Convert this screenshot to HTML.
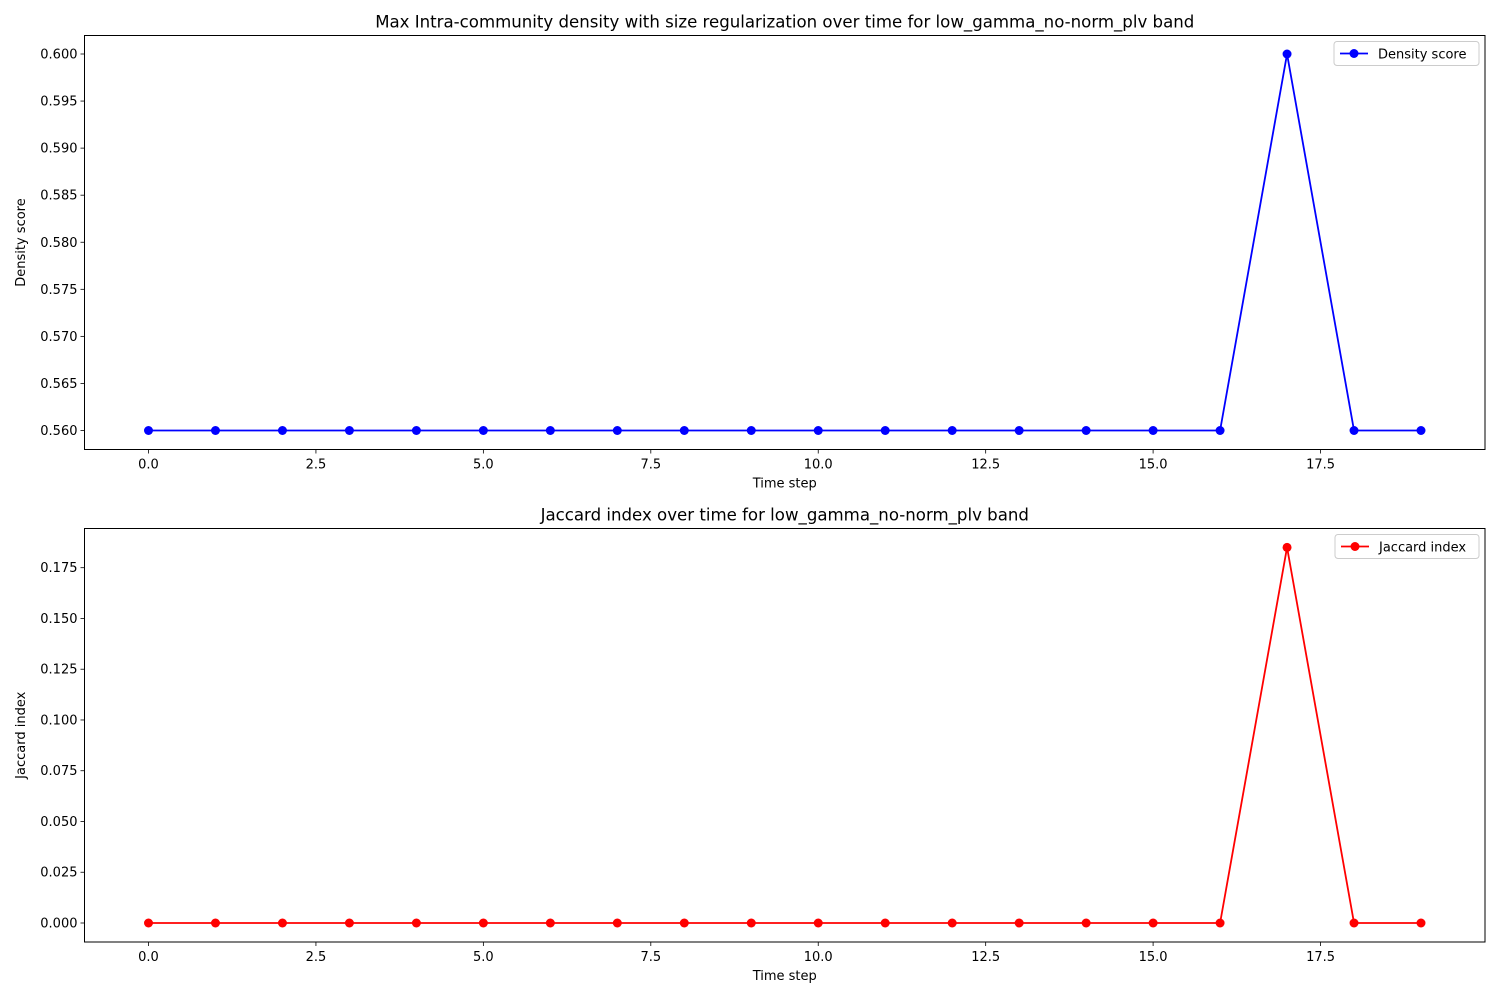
<!DOCTYPE html>
<html><head><meta charset="utf-8"><style>
body{margin:0;background:#fff;font-family:"Liberation Sans","DejaVu Sans",sans-serif}
svg text{font-family:"DejaVu Sans","Liberation Sans",sans-serif;font-size:13px;fill:#000}
svg text.title{font-size:16.6px}
</style></head><body>
<svg id="c" width="1500" height="1000" xmlns="http://www.w3.org/2000/svg"></svg>
<script>
const timeSteps=[0,1,2,3,4,5,6,7,8,9,10,11,12,13,14,15,16,17,18,19];
const densityValues=[0.56,0.56,0.56,0.56,0.56,0.56,0.56,0.56,0.56,0.56,0.56,0.56,0.56,0.56,0.56,0.56,0.56,0.60,0.56,0.56];
const jaccardValues=[0,0,0,0,0,0,0,0,0,0,0,0,0,0,0,0,0,0.185,0,0];
const xTicks=[0,2.5,5,7.5,10,12.5,15,17.5];
const xTickLabels=["0.0","2.5","5.0","7.5","10.0","12.5","15.0","17.5"];
const densityTicks=[0.56,0.565,0.57,0.575,0.58,0.585,0.59,0.595,0.60];
const densityTickLabels=["0.560","0.565","0.570","0.575","0.580","0.585","0.590","0.595","0.600"];
const jaccardTicks=[0,0.025,0.05,0.075,0.1,0.125,0.15,0.175];
const jaccardTickLabels=["0.000","0.025","0.050","0.075","0.100","0.125","0.150","0.175"];

const svg=document.getElementById('c');
const NS='http://www.w3.org/2000/svg';
function mk(tag,attrs,parent){const e=document.createElementNS(NS,tag);for(const k in attrs)e.setAttribute(k,attrs[k]);(parent||svg).appendChild(e);return e;}
function xScale(v){return 148.5+(1421-148.5)*v/19;}

function panel(o){
  const g=mk('g',{});
  
  
  const L=84.5,R=1485,T=o.top,B=o.bottom;
  const y=v=>o.y0px+(o.y1px-o.y0px)*(v-o.y0)/(o.y1-o.y0);
  const t=mk('text',{x:(L+R)/2,y:T-8,'text-anchor':'middle','class':'title'},g);t.textContent=o.title;
  
  xTicks.forEach((v,i)=>{const X=xScale(v);mk('line',{x1:X,x2:X,y1:B,y2:B+4,stroke:'#000','stroke-width':0.8},g);
    const tx=mk('text',{x:X,y:B+19,'text-anchor':'middle'},g);tx.textContent=xTickLabels[i];
    });
  o.ticks.forEach((v,i)=>{const Y=y(v);mk('line',{x1:L-4,x2:L,y1:Y,y2:Y,stroke:'#000','stroke-width':0.8},g);
    const ty=mk('text',{x:L-7,y:Y+4.5,'text-anchor':'end'},g);ty.textContent=o.tickLabels[i];
    });
  const xl=mk('text',{x:(L+R)/2,y:B+38,'text-anchor':'middle'},g);xl.textContent='Time step';
  
  const cy=(T+B)/2;
  const yl=mk('text',{x:25,y:cy,'text-anchor':'middle',transform:`rotate(-90 25 ${cy})`},g);yl.textContent=o.ylabel;
  
  const pts=timeSteps.map((t,i)=>xScale(t)+','+y(o.values[i])).join(' ');
  const pl=mk('polyline',{points:pts,fill:'none',stroke:o.color,'stroke-width':1.8},g);
  
  timeSteps.forEach((t,i)=>{const c=mk('circle',{cx:xScale(t),cy:y(o.values[i]),r:4.5,fill:o.color},g);
    });
  mk('rect',{x:L,y:T,width:R-L,height:B-T,fill:'none',stroke:'#000','stroke-width':1},g);
  const lg=mk('g',{},g);
  
  const lx=o.legX,ly=T+6;
  mk('rect',{x:lx,y:ly,width:R-6-lx,height:24,rx:3,fill:'#fff',stroke:'#ccc'},lg);
  mk('line',{x1:lx+6,x2:lx+34,y1:ly+12,y2:ly+12,stroke:o.color,'stroke-width':1.8},lg);
  mk('circle',{cx:lx+20,cy:ly+12,r:4.5,fill:o.color},lg);
  const lt=mk('text',{x:lx+44,y:ly+17},lg);lt.textContent=o.ylabel;
}
panel({name:'density-panel',top:35.5,bottom:449.5,title:'Max Intra-community density with size regularization over time for low_gamma_no-norm_plv band',
  ylabel:'Density score',color:'#0000ff',values:densityValues,ticks:densityTicks,tickLabels:densityTickLabels,
  y0:0.56,y1:0.60,y0px:430.5,y1px:54,legX:1334});
panel({name:'jaccard-panel',top:528.5,bottom:942,title:'Jaccard index over time for low_gamma_no-norm_plv band',
  ylabel:'Jaccard index',color:'#ff0000',values:jaccardValues,ticks:jaccardTicks,tickLabels:jaccardTickLabels,
  y0:0,y1:0.175,y0px:923,y1px:567.7,legX:1335});
</script>
</body></html>
